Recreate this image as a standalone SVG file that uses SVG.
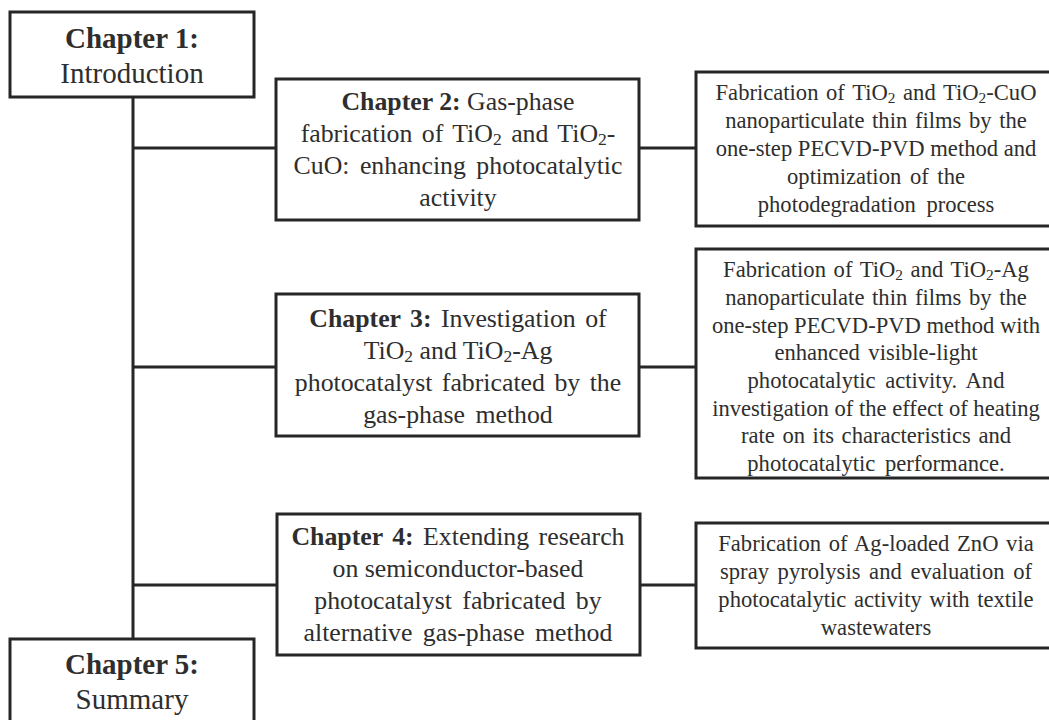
<svg xmlns="http://www.w3.org/2000/svg" width="1049" height="720" viewBox="0 0 1049 720">
<style>
.box{fill:#fff;stroke:#262626;stroke-width:3}
.ln{stroke:#262626;stroke-width:3;fill:none}
.t{font-family:"Liberation Serif","Times New Roman",serif;fill:#2e2e2e;text-anchor:middle}
.h{font-size:29px}
.c{font-size:25.8px}
.r{font-size:22.6px}
.b{font-weight:bold}
.s{font-size:68%}
</style>
<rect width="1049" height="720" fill="#fff"/>
<g id="connectors">
<path class="ln" d="M133 97V639M133 148H276M133 367H276M133 585H277M639 148H696M639 367H696M640 585H696"/>
</g>
<g id="ch1">
<rect class="box" x="10" y="12" width="244" height="85"/>
<text class="t h" x="132" y="48"><tspan class="b">Chapter 1:</tspan></text>
<text class="t h" x="132" y="83">Introduction</text>
</g>
<g id="ch2">
<rect class="box" x="276" y="79" width="363" height="141"/>
<text class="t c" x="458" y="110"><tspan class="b">Chapter 2:</tspan> Gas-phase</text>
<text class="t c" x="458" y="142" word-spacing="3">fabrication of TiO<tspan class="s" dy="3">2</tspan><tspan dy="-3"> and TiO</tspan><tspan class="s" dy="3">2</tspan><tspan dy="-3">-</tspan></text>
<text class="t c" x="458" y="174" word-spacing="4">CuO: enhancing photocatalytic</text>
<text class="t c" x="458" y="206">activity</text>
</g>
<g id="ch3">
<rect class="box" x="276" y="294" width="363" height="142"/>
<text class="t c" x="458" y="327" word-spacing="3"><tspan class="b">Chapter 3:</tspan> Investigation of</text>
<text class="t c" x="458" y="359">TiO<tspan class="s" dy="3">2</tspan><tspan dy="-3"> and TiO</tspan><tspan class="s" dy="3">2</tspan><tspan dy="-3">-Ag</tspan></text>
<text class="t c" x="458" y="391" word-spacing="3">photocatalyst fabricated by the</text>
<text class="t c" x="458" y="423" word-spacing="4">gas-phase method</text>
</g>
<g id="ch4">
<rect class="box" x="277" y="514" width="363" height="141"/>
<text class="t c" x="458" y="545" word-spacing="3"><tspan class="b">Chapter 4:</tspan> Extending research</text>
<text class="t c" x="458" y="577">on semiconductor-based</text>
<text class="t c" x="458" y="609" word-spacing="4">photocatalyst fabricated by</text>
<text class="t c" x="458" y="641" word-spacing="4">alternative gas-phase method</text>
</g>
<g id="ch5">
<rect class="box" x="10" y="639" width="244" height="95"/>
<text class="t h" x="132" y="674"><tspan class="b">Chapter 5:</tspan></text>
<text class="t h" x="132" y="709">Summary</text>
</g>
<g id="d1">
<rect class="box" x="696" y="72" width="362" height="154"/>
<text class="t r" x="876" y="100" word-spacing="2">Fabrication of TiO<tspan class="s" dy="3">2</tspan><tspan dy="-3"> and TiO</tspan><tspan class="s" dy="3">2</tspan><tspan dy="-3">-CuO</tspan></text>
<text class="t r" x="876" y="128" word-spacing="2">nanoparticulate thin films by the</text>
<text class="t r" x="876" y="156">one-step PECVD-PVD method and</text>
<text class="t r" x="876" y="184" word-spacing="3">optimization of the</text>
<text class="t r" x="876" y="212" word-spacing="5">photodegradation process</text>
</g>
<g id="d2">
<rect class="box" x="696" y="249" width="362" height="229"/>
<text class="t r" x="876" y="277" word-spacing="2">Fabrication of TiO<tspan class="s" dy="3">2</tspan><tspan dy="-3"> and TiO</tspan><tspan class="s" dy="3">2</tspan><tspan dy="-3">-Ag</tspan></text>
<text class="t r" x="876" y="305" word-spacing="2">nanoparticulate thin films by the</text>
<text class="t r" x="876" y="333">one-step PECVD-PVD method with</text>
<text class="t r" x="876" y="360" word-spacing="3">enhanced visible-light</text>
<text class="t r" x="876" y="388" word-spacing="4">photocatalytic activity. And</text>
<text class="t r" x="876" y="416">investigation of the effect of heating</text>
<text class="t r" x="876" y="443" word-spacing="2">rate on its characteristics and</text>
<text class="t r" x="876" y="471" word-spacing="4">photocatalytic performance.</text>
</g>
<g id="d3">
<rect class="box" x="696" y="523" width="362" height="125"/>
<text class="t r" x="876" y="551" word-spacing="2">Fabrication of Ag-loaded ZnO via</text>
<text class="t r" x="876" y="579" word-spacing="3">spray pyrolysis and evaluation of</text>
<text class="t r" x="876" y="607" word-spacing="2">photocatalytic activity with textile</text>
<text class="t r" x="876" y="635">wastewaters</text>
</g>
</svg>
